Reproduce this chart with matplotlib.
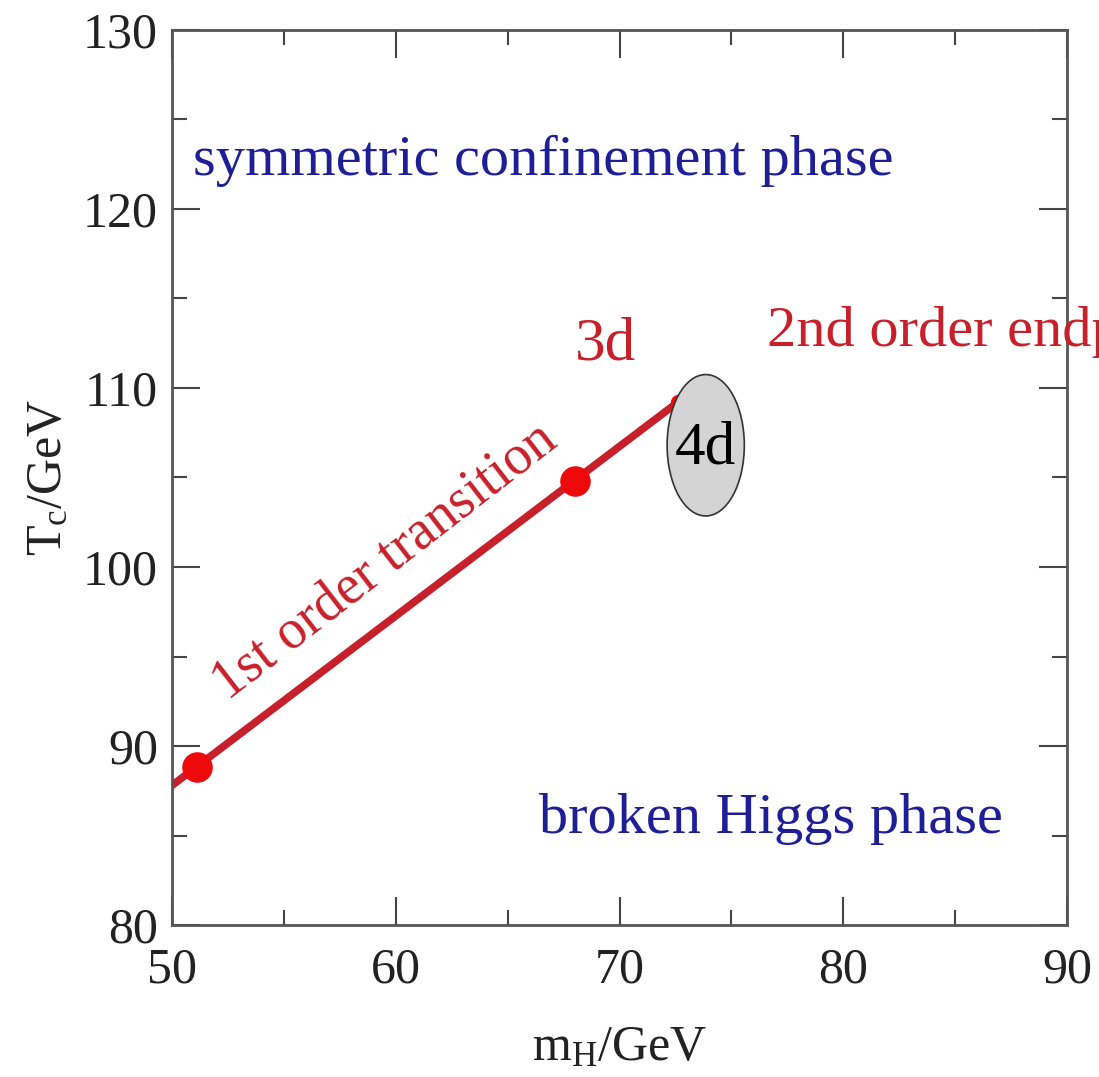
import matplotlib
matplotlib.use("Agg")
import matplotlib.pyplot as plt
from matplotlib.patches import Ellipse
from matplotlib.ticker import MultipleLocator

plt.rcParams["font.family"] = ["Liberation Serif", "DejaVu Serif"]
plt.rcParams["mathtext.fontset"] = "custom"
plt.rcParams["mathtext.rm"] = "Liberation Serif"
plt.rcParams["mathtext.it"] = "Liberation Serif"

# phase transition line (m_H, T_c) in GeV
line_mh = [50.0, 72.6]
line_tc = [87.8, 109.2]
point_mh = [51.1, 68.0]
point_tc = [88.8, 104.8]
end_mh = [72.6]
end_tc = [109.2]

# 4d estimate of the endpoint
ell_center = (73.85, 106.8)
ell_width = 3.45
ell_height = 7.9

RED = "#c8202a"
BLUE = "#1e1e96"

fig = plt.figure(figsize=(10.99, 10.77), dpi=100)
ax = fig.add_axes([0.1565, 0.1411, 0.8145, 0.8311])

ax.plot(line_mh, line_tc, color=RED, lw=5.5, zorder=2)
ax.plot(point_mh, point_tc, "o", color="#ee0a0a", ms=21, mec="#ee0a0a", zorder=3)
ax.plot(end_mh, end_tc, "o", color="#ee0a0a", ms=10, zorder=3)

ell = Ellipse(ell_center, ell_width, ell_height, facecolor="#d4d4d4",
              edgecolor="#333333", lw=1.2, zorder=4)
ax.add_patch(ell)
ax.text(ell_center[0], ell_center[1] - 0.2, "4d", fontsize=44, ha="center",
        va="center", color="black", zorder=5)

ax.text(50.95, 122.7, "symmetric confinement phase", fontsize=42, color=BLUE,
        ha="left", va="center")
ax.text(66.4, 85.9, "broken Higgs phase", fontsize=42, color=BLUE,
        ha="left", va="center")
ax.text(68.0, 112.4, "3d", fontsize=44, color=RED, ha="left", va="center")
# runs past the figure edge, as in the original
ax.text(76.6, 113.1, "2nd order endpoint", fontsize=42, color=RED,
        ha="left", va="center", clip_on=False)
ax.text(59.5, 100.3, "1st order transition", fontsize=40, color=RED,
        ha="center", va="center", rotation=37.7, rotation_mode="anchor")

ax.set_xlim(50, 90)
ax.set_ylim(80, 130)
ax.xaxis.set_major_locator(MultipleLocator(10))
ax.xaxis.set_minor_locator(MultipleLocator(5))
ax.yaxis.set_major_locator(MultipleLocator(10))
ax.yaxis.set_minor_locator(MultipleLocator(5))
ax.tick_params(which="both", direction="in", top=True, right=True,
               color="#444444", width=1.5, labelsize=36, labelcolor="#222222")
ax.tick_params(which="major", length=20, pad=10)
ax.tick_params(axis="x", which="major", pad=16)
ax.tick_params(which="minor", length=11)
for s in ax.spines.values():
    s.set_color("#555555")
    s.set_linewidth(2)

ax.set_xlabel(r"m$_\mathrm{H}$/GeV", fontsize=36, color="#222222", labelpad=22)
ax.set_ylabel(r"T$_\mathrm{c}$/GeV", fontsize=36, color="#222222", labelpad=8)

fig.savefig("out.png", dpi=100)
